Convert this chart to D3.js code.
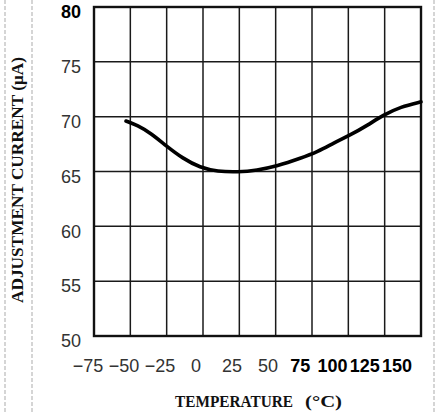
<!DOCTYPE html>
<html>
<head>
<meta charset="utf-8">
<script src="https://cdn.jsdelivr.net/npm/d3@7/dist/d3.min.js"></script>
<style>
  html, body { margin: 0; padding: 0; background: #fff; }
  svg { display: block; }
</style>
</head>
<body>
<svg id="chart" width="441" height="414"></svg>
<script>
// Adjustment current vs. temperature
const temperature = [-53, -45, -36, -25, -14, -2, 10, 24, 37, 51, 67, 79, 90, 101, 113, 124, 136, 150];
const current     = [69.6, 69.2, 68.5, 67.3, 66.2, 65.35, 65.0, 64.95, 65.1, 65.5, 66.2, 66.8, 67.6, 68.3, 69.2, 70.15, 70.9, 71.35];

const xTicks = [-75, -50, -25, 0, 25, 50, 75, 100, 125, 150];
const yTicks = [50, 55, 60, 65, 70, 75, 80];
const boldXTicks = [75, 100, 125, 150];
const boldYTicks = [80];

const svg = d3.select("#chart");
const W = 441, H = 414;
const plot = { left: 94, right: 421, top: 7, bottom: 336 };

const x = d3.scaleLinear().domain([-75, 150]).range([plot.left, plot.right]);
const y = d3.scaleLinear().domain([50, 80]).range([plot.bottom, plot.top]);
// tick labels sit in a tighter row than the grid columns, packed closer on the right
const xLabel = d3.scaleLinear().domain([-75, 50, 150]).range([88, 268, 397]);

// dashed page guides
[5, 32, 434].forEach(px => {
  svg.append("line")
    .attr("x1", px).attr("x2", px).attr("y1", 0).attr("y2", H)
    .attr("stroke", "#c4c4c4").attr("stroke-width", 1.4)
    .attr("stroke-dasharray", "4,2");
});

// grid
const grid = svg.append("g");
grid.selectAll(".vg").data(xTicks.slice(1, -1)).join("line")
  .attr("x1", d => x(d)).attr("x2", d => x(d))
  .attr("y1", plot.top).attr("y2", plot.bottom)
  .attr("stroke", "#1a1a1a").attr("stroke-width", 1.5);
grid.selectAll(".hg").data(yTicks.slice(1, -1)).join("line")
  .attr("x1", plot.left).attr("x2", plot.right)
  .attr("y1", d => y(d)).attr("y2", d => y(d))
  .attr("stroke", "#1a1a1a").attr("stroke-width", 1.5);

// frame
svg.append("rect")
  .attr("x", plot.left).attr("y", plot.top)
  .attr("width", plot.right - plot.left).attr("height", plot.bottom - plot.top)
  .attr("fill", "none").attr("stroke", "#111").attr("stroke-width", 2.4);

// curve
const line = d3.line()
  .x((d, i) => x(temperature[i]))
  .y(d => y(d))
  .curve(d3.curveBasis);
svg.append("path")
  .datum(current)
  .attr("d", line)
  .attr("fill", "none").attr("stroke", "#000")
  .attr("stroke-width", 3.6).attr("stroke-linecap", "round");

// y tick labels
svg.append("g").selectAll("text").data(yTicks).join("text")
  .attr("x", 81).attr("y", d => y(d) + 5)
  .attr("dy", "0.35em")
  .attr("text-anchor", "end")
  .attr("font-family", "Liberation Sans, Arial, sans-serif")
  .attr("font-size", 18)
  .attr("font-weight", d => boldYTicks.includes(d) ? "bold" : "normal")
  .attr("fill", d => boldYTicks.includes(d) ? "#000" : "#333")
  .text(d => d);

// x tick labels
svg.append("g").selectAll("text").data(xTicks).join("text")
  .attr("x", d => xLabel(d)).attr("y", 372)
  .attr("text-anchor", "middle")
  .attr("font-family", "Liberation Sans, Arial, sans-serif")
  .attr("font-size", 18)
  .attr("font-weight", d => boldXTicks.includes(d) ? "bold" : "normal")
  .attr("fill", d => boldXTicks.includes(d) ? "#000" : "#333")
  .text(d => d < 0 ? "\u2212" + Math.abs(d) : d);

// axis titles
svg.append("text")
  .attr("x", 175).attr("y", 407)
  .attr("font-family", "Liberation Serif, serif")
  .attr("font-weight", "bold").attr("font-size", 16)
  .attr("textLength", 118).attr("lengthAdjust", "spacingAndGlyphs")
  .attr("fill", "#111")
  .text("TEMPERATURE");
svg.append("text")
  .attr("x", 305).attr("y", 407)
  .attr("font-family", "Liberation Serif, serif")
  .attr("font-weight", "bold").attr("font-size", 17)
  .attr("textLength", 37).attr("lengthAdjust", "spacingAndGlyphs")
  .attr("fill", "#111")
  .text("(°C)");

svg.append("text")
  .attr("transform", "translate(23,180) rotate(-90)")
  .attr("text-anchor", "middle")
  .attr("font-family", "Liberation Serif, serif")
  .attr("font-weight", "bold").attr("font-size", 16)
  .attr("textLength", 246).attr("lengthAdjust", "spacingAndGlyphs")
  .attr("fill", "#111")
  .text("ADJUSTMENT  CURRENT (μA)");
</script>
</body>
</html>
